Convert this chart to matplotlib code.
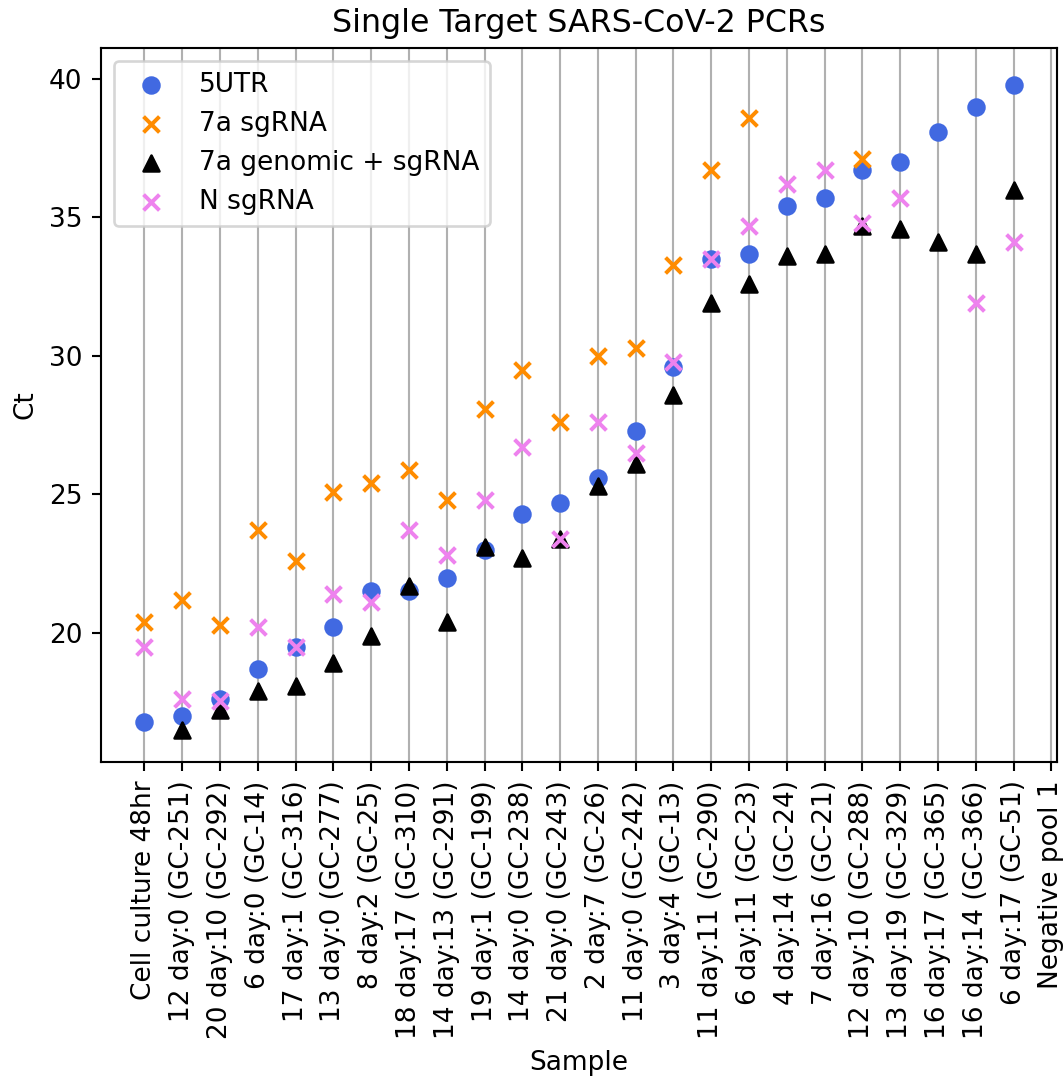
import numpy as np
import matplotlib
matplotlib.use("Agg")
import matplotlib.pyplot as plt

nan = np.nan
samples = ["Cell culture 48hr", "12 day:0 (GC-251)", "20 day:10 (GC-292)", "6 day:0 (GC-14)",
           "17 day:1 (GC-316)", "13 day:0 (GC-277)", "8 day:2 (GC-25)", "18 day:17 (GC-310)",
           "14 day:13 (GC-291)", "19 day:1 (GC-199)", "14 day:0 (GC-238)", "21 day:0 (GC-243)",
           "2 day:7 (GC-26)", "11 day:0 (GC-242)", "3 day:4 (GC-13)", "11 day:11 (GC-290)",
           "6 day:11 (GC-23)", "4 day:14 (GC-24)", "7 day:16 (GC-21)", "12 day:10 (GC-288)",
           "13 day:19 (GC-329)", "16 day:17 (GC-365)", "16 day:14 (GC-366)", "6 day:17 (GC-51)",
           "Negative pool 1"]

utr5 = [16.8, 17.0, 17.6, 18.7, 19.5, 20.2, 21.5, 21.5, 22.0, 23.0, 24.3, 24.7, 25.6, 27.3,
        29.6, 33.5, 33.7, 35.4, 35.7, 36.7, 37.0, 38.1, 39.0, 39.8, nan]
sg7a = [20.4, 21.2, 20.3, 23.7, 22.6, 25.1, 25.4, 25.9, 24.8, 28.1, 29.5, 27.6, 30.0, 30.3,
        33.3, 36.7, 38.6, nan, nan, 37.1, nan, nan, nan, nan, nan]
gen7a = [nan, 16.5, 17.2, 17.9, 18.1, 18.9, 19.9, 21.7, 20.4, 23.1, 22.7, 23.4, 25.3, 26.1,
         28.6, 31.9, 32.6, 33.6, 33.7, 34.7, 34.6, 34.1, 33.7, 36.0, nan]
nsg = [19.5, 17.6, 17.55, 20.2, 19.5, 21.4, 21.1, 23.7, 22.8, 24.8, 26.7, 23.4, 27.6, 26.5,
       29.8, 33.5, 34.7, 36.2, 36.7, 34.8, 35.7, nan, 31.9, 34.1, nan]

dpi = 190
fig = plt.figure(figsize=(1064 / dpi, 1082 / dpi), dpi=dpi)
ax = fig.add_axes([101 / 1064, 1 - 762 / 1082, (1057 - 101) / 1064, (762 - 48) / 1082])
ax.set_axisbelow(True)

ax.scatter(samples, utr5, color="royalblue", marker="o", label="5UTR")
ax.scatter(samples, sg7a, color="darkorange", marker="x", label="7a sgRNA")
ax.scatter(samples, gen7a, color="black", marker="^", label="7a genomic + sgRNA")
ax.scatter(samples, nsg, color="violet", marker="x", label="N sgRNA")

ax.set_xlim(-1.15, 24.15)
ax.set_ylim(15.34, 41.12)
ax.grid(axis="x")
ax.tick_params(axis="x", labelrotation=90)
ax.set_xlabel("Sample")
ax.set_ylabel("Ct")
ax.set_title("Single Target SARS-CoV-2 PCRs")
ax.legend(loc="upper left")

fig.savefig("out.png", dpi=dpi)
